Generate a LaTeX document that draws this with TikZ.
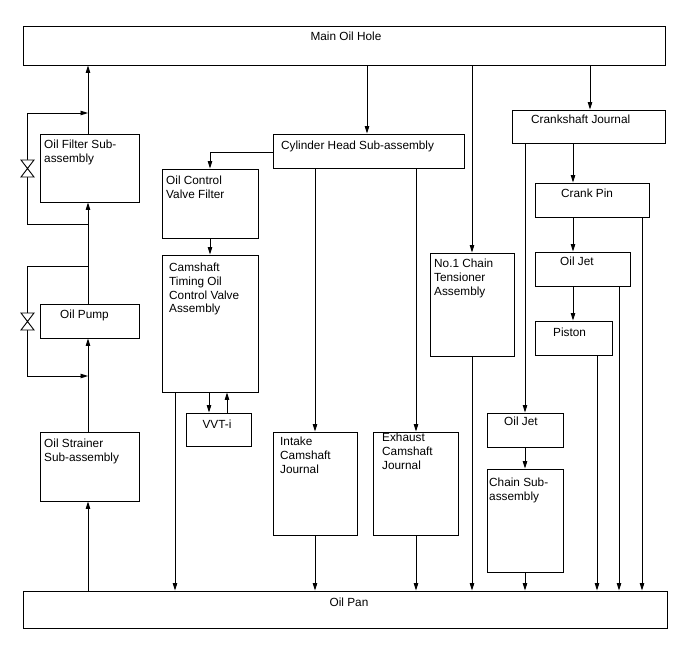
\documentclass[tikz,border=0pt]{standalone}
\usepackage{fontspec}
\setmainfont{Liberation Sans}
\usetikzlibrary{arrows.meta,fit}
\tikzset{
  box/.style={draw, line width=0.95pt, inner sep=0pt},
  lbl/.style={inner sep=0pt, align=left, font=\fontsize{11.8}{13.7}\selectfont},
  arr/.style={line width=0.9pt, -{Triangle[length=7.5pt,width=4.5pt]}},
  valve/.style={line width=0.9pt, fill=white}
}
\begin{document}
\begin{tikzpicture}[x=1pt,y=-1pt]
\useasboundingbox (0,0) rectangle (688,658);
% boxes
\node[box, fit={(23,26) (665,65)}] (main) {};
\node[box, fit={(23,591) (667,628)}] (pan) {};
\node[box, fit={(40,134) (139,202)}] (filt) {};
\node[box, fit={(40,304) (139,338)}] (pump) {};
\node[box, fit={(40,432) (139,501)}] (strain) {};
\node[box, fit={(273,134) (464,168)}] (cyl) {};
\node[box, fit={(162,169) (258,238)}] (ocvf) {};
\node[box, fit={(162,255) (258,392)}] (ctocv) {};
\node[box, fit={(186,413) (251,446)}] (vvt) {};
\node[box, fit={(273,432) (357,535)}] (intake) {};
\node[box, fit={(373,432) (458,535)}] (exh) {};
\node[box, fit={(430,253) (514,356)}] (ten) {};
\node[box, fit={(512,110) (665,143)}] (cj) {};
\node[box, fit={(535,183) (649,217)}] (cp) {};
\node[box, fit={(535,252) (630,286)}] (ojA) {};
\node[box, fit={(535,321) (612,355)}] (pis) {};
\node[box, fit={(487,413) (563,447)}] (ojB) {};
\node[box, fit={(487,469) (563,572)}] (chain) {};
% labels
\node[lbl, anchor=north] (mainT) at (346,32) {Main Oil Hole};
\node[lbl, anchor=north] (panT) at (349,598) {Oil Pan};
\node[lbl, anchor=north west] (filtT) at (44,140) {Oil Filter Sub-\\assembly};
\node[lbl, anchor=north west] (pumpT) at (60,310) {Oil Pump};
\node[lbl, anchor=north west] (strainT) at (44,439) {Oil Strainer\\Sub-assembly};
\node[lbl, anchor=north west] (cylT) at (281,141) {Cylinder Head Sub-assembly};
\node[lbl, anchor=north west] (ocvfT) at (166,176) {Oil Control\\Valve Filter};
\node[lbl, anchor=north west] (ctocvT) at (169,263) {Camshaft\\Timing Oil\\Control Valve\\Assembly};
\node[lbl, anchor=north] (vvtT) at (217,420) {VVT-i};
\node[lbl, anchor=north west] (intakeT) at (280,437) {Intake\\Camshaft\\Journal};
\node[lbl, anchor=north west] (exhT) at (382,433) {Exhaust\\Camshaft\\Journal};
\node[lbl, anchor=north west] (tenT) at (434,259) {No.1 Chain\\Tensioner\\Assembly};
\node[lbl, anchor=north west] (cjT) at (531,115) {Crankshaft Journal};
\node[lbl, anchor=north west] (cpT) at (561,189) {Crank Pin};
\node[lbl, anchor=north west] (ojAT) at (560,257) {Oil Jet};
\node[lbl, anchor=north west] (pisT) at (553,328) {Piston};
\node[lbl, anchor=north west] (ojBT) at (504,417) {Oil Jet};
\node[lbl, anchor=north west] (chainT) at (489,478) {Chain Sub-\\assembly};
% column coordinates
\coordinate (cL) at (88,0);
\coordinate (cByp) at (27,0);
\coordinate (cCH) at (367,0);
\coordinate (cOCV) at (210,0);
\coordinate (cCT) at (175,0);
\coordinate (cV1) at (209,0);
\coordinate (cV2) at (227,0);
\coordinate (cIn) at (315,0);
\coordinate (cEx) at (416,0);
\coordinate (cTen) at (472,0);
\coordinate (cCJ) at (590,0);
\coordinate (cOJB) at (525,0);
\coordinate (cCP) at (573,0);
\coordinate (cCPr) at (642,0);
\coordinate (cOJr) at (619,0);
\coordinate (cPi) at (597,0);
\coordinate (fb1) at (88,224);
\coordinate (fb2) at (88,113);
\coordinate (pb1) at (88,266);
\coordinate (pb2) at (88,376);
\coordinate (cyS) at (0,152);
% left chain
\draw[arr] (pan.north -| cL) -- (strain.south -| cL);
\draw[arr] (strain.north -| cL) -- (pump.south -| cL);
\draw[arr] (pump.north -| cL) -- (filt.south -| cL);
\draw[arr] (filt.north -| cL) -- (main.south -| cL);
% bypasses
\draw[arr] (fb1) -- (fb1 -| cByp) -- (fb2 -| cByp) -- (fb2);
\draw[arr] (pb1) -- (pb1 -| cByp) -- (pb2 -| cByp) -- (pb2);
\draw[valve] (21,160) -- (34,160) -- (21,177) -- (34,177) -- cycle;
\draw[valve] (21,313) -- (34,313) -- (21,330) -- (34,330) -- cycle;
% cylinder head branch
\draw[arr] (main.south -| cCH) -- (cyl.north -| cCH);
\draw[arr] (cyl.west |- cyS) -- (cyS -| cOCV) -- (ocvf.north -| cOCV);
\draw[arr] (ocvf.south -| cOCV) -- (ctocv.north -| cOCV);
\draw[arr] (ctocv.south -| cV1) -- (vvt.north -| cV1);
\draw[arr] (vvt.north -| cV2) -- (ctocv.south -| cV2);
\draw[arr] (ctocv.south -| cCT) -- (pan.north -| cCT);
\draw[arr] (cyl.south -| cIn) -- (intake.north -| cIn);
\draw[arr] (cyl.south -| cEx) -- (exh.north -| cEx);
\draw[arr] (intake.south -| cIn) -- (pan.north -| cIn);
\draw[arr] (exh.south -| cEx) -- (pan.north -| cEx);
% tensioner
\draw[arr] (main.south -| cTen) -- (ten.north -| cTen);
\draw[arr] (ten.south -| cTen) -- (pan.north -| cTen);
% crankshaft
\draw[arr] (main.south -| cCJ) -- (cj.north -| cCJ);
\draw[arr] (cj.south -| cOJB) -- (ojB.north -| cOJB);
\draw[arr] (ojB.south -| cOJB) -- (chain.north -| cOJB);
\draw[arr] (chain.south -| cOJB) -- (pan.north -| cOJB);
\draw[arr] (cj.south -| cCP) -- (cp.north -| cCP);
\draw[arr] (cp.south -| cCP) -- (ojA.north -| cCP);
\draw[arr] (ojA.south -| cCP) -- (pis.north -| cCP);
\draw[arr] (cp.south -| cCPr) -- (pan.north -| cCPr);
\draw[arr] (ojA.south -| cOJr) -- (pan.north -| cOJr);
\draw[arr] (pis.south -| cPi) -- (pan.north -| cPi);
\end{tikzpicture}
\end{document}
